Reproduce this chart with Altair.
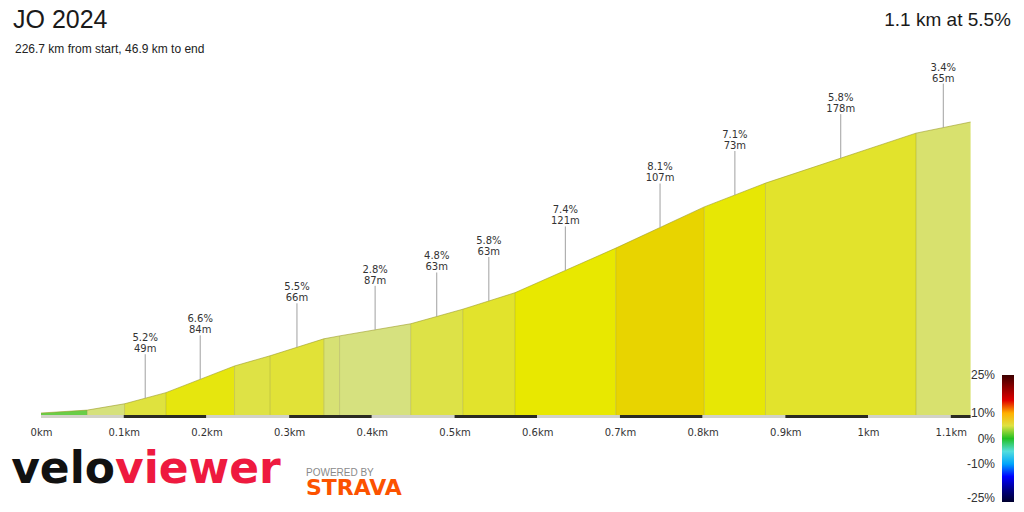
import altair as alt
import pandas as pd

# ---------------- data ----------------
title_text = "JO 2024"
subtitle_text = "226.7 km from start, 46.9 km to end"
summary_text = "1.1 km at 5.5%"

# segment boundaries (km from climb start) and relative elevation (m)
dist_km = [0.0, 0.056, 0.101, 0.151, 0.234, 0.277, 0.342, 0.361, 0.447,
           0.510, 0.573, 0.695, 0.802, 0.876, 1.058, 1.124]
elev_m = [0.0, 0.6, 1.9, 4.2, 9.7, 11.8, 15.3, 15.9, 18.4,
          21.4, 24.8, 34.0, 42.5, 47.4, 57.7, 60.0]
# per-segment gradient (%) and length (m)
grad_pct = [1.1, 2.9, 5.2, 6.6, 4.9, 5.5, 3.2, 2.8, 4.8, 5.8, 7.4, 8.1, 7.1, 5.8, 3.4]
seg_len_m = [56, 45, 49, 84, 43, 66, 19, 87, 63, 63, 121, 107, 73, 178, 65]
labeled = [False, False, True, True, False, True, False, True, True, True,
           True, True, True, True, True]

tick_km = [0, 0.1, 0.2, 0.3, 0.4, 0.5, 0.6, 0.7, 0.8, 0.9, 1, 1.1]

legend_values = [-25, -10, 0, 10, 25]
grad_stops = [-25, -20, -15, -11, -7, -3, 0, 2.8, 4.8, 5.5, 6.6, 7.4, 8.1, 10, 12, 15, 20, 25]
color_stops = ["#00002e", "#00008a", "#0000ff", "#0090ff", "#00e4ee", "#a8d8cc",
               "#22c022", "#d6e17f", "#dde247", "#e1e237", "#e6e60e", "#e8e800",
               "#e8d400", "#ffb000", "#ff6a00", "#e00000", "#900000", "#3c0000"]

logo_a = "velo"
logo_b = "viewer"
powered_text = "POWERED BY"
strava_text = "STRAVA"

# ---------------- tables ----------------
Y_MIN, Y_MAX = -0.41, 60.0
X_MAX = 1.1245
W, H = 930, 293
LEG_X, LEG_Y, LEG_LEN, LEG_W = 961, 253, 127, 12

area_rows = []
for i, g in enumerate(grad_pct):
    for j in (i, i + 1):
        area_rows.append({"d": dist_km[j], "e": elev_m[j], "base": Y_MIN, "seg": i, "g": g})
area_df = pd.DataFrame(area_rows)

prof_df = pd.DataFrame({"d": dist_km, "e": elev_m, "base": [Y_MIN] * len(dist_km)})
sep_df = prof_df.iloc[1:-1]

lab_rows = []
for i, g in enumerate(grad_pct):
    if labeled[i]:
        lab_rows.append({
            "d": (dist_km[i] + dist_km[i + 1]) / 2,
            "e": (elev_m[i] + elev_m[i + 1]) / 2,
            "txt": f"{g}%\n{seg_len_m[i]}m",
        })
lab_df = pd.DataFrame(lab_rows)

stripe_df = pd.DataFrame({
    "d": tick_km,
    "d2": tick_km[1:] + [dist_km[-1]],
    "k": [i % 2 for i in range(len(tick_km))],
})

leg_df = pd.DataFrame({"v": legend_values, "t": [f"{v}%" for v in legend_values]})

# ---------------- encodings ----------------
XS = alt.Scale(domain=[0, X_MAX], nice=False, zero=False)
YS = alt.Scale(domain=[Y_MIN, Y_MAX], nice=False, zero=False)
AX = alt.Axis(values=tick_km, labelExpr="datum.value + 'km'", domain=False,
              ticks=False, tickSize=0, grid=False, labelPadding=12,
              labelFont="DejaVu Sans", labelFontSize=10, labelColor="#333333",
              title=None, labelFlush=False, labelOverlap=False)
X = alt.X("d:Q", scale=XS, axis=AX)
Y = alt.Y("e:Q", scale=YS, axis=None)

legend = alt.Legend(
    orient="none", legendX=LEG_X, legendY=LEG_Y, direction="vertical",
    gradientLength=LEG_LEN, gradientThickness=LEG_W, gradientStrokeWidth=0,
    values=legend_values, labelExpr="''", labelOpacity=0,
    title=None, padding=0, labelOverlap=False,
)

area = alt.Chart(area_df).mark_area(interpolate="linear").encode(
    x=X, y=Y, y2="base:Q",
    color=alt.Color("g:Q",
                    scale=alt.Scale(domain=grad_stops, range=color_stops, interpolate="rgb"),
                    legend=legend),
    detail="seg:N",
)

seps = alt.Chart(sep_df).mark_rule(color="#8f8f2a", opacity=0.35, strokeWidth=1).encode(
    x=X, y=Y, y2="base:Q")

top = alt.Chart(prof_df).mark_line(color="#9c9c28", opacity=0.6, strokeWidth=1).encode(
    x=X, y=Y)

stripes = alt.Chart(stripe_df).mark_rect().encode(
    x=X, x2="d2:Q", y=alt.value(H), y2=alt.value(H + 3),
    fill=alt.Fill("k:N", scale=alt.Scale(domain=[0, 1], range=["#d2d2c8", "#2b2b22"]), legend=None),
)

leaders = alt.Chart(lab_df).mark_rule(color="#a0a0a0", strokeWidth=1, y2Offset=-44).encode(
    x=X, y=Y, y2="e:Q")

labels = alt.Chart(lab_df).mark_text(align="center", baseline="alphabetic", dy=-57,
                                     lineBreak="\n", lineHeight=11, font="DejaVu Sans",
                                     fontSize=10, color="#333333").encode(
    x=X, y=Y, text="txt:N")

# colour-bar labels, placed through a scale matching the gradient legend
LEG_YS = alt.Scale(domain=[-25, 25], range=[LEG_Y + LEG_LEN, LEG_Y], nice=False, zero=False)


def leg_text(flt, dy):
    return alt.Chart(leg_df).transform_filter(flt).mark_text(
        align="right", baseline="middle", font="Liberation Sans", fontSize=12,
        color="#333333", dy=dy).encode(
        x=alt.value(LEG_X - 7),
        y=alt.Y("v:Q", scale=LEG_YS, axis=None),
        text="t:N",
    )


leg_main = leg_text("datum.v > -25", 0)
leg_bottom = leg_text("datum.v <= -25", -4)

one = alt.Data(values=[{"a": 1}])


def txt(s, x, y, **kw):
    return alt.Chart(one).mark_text(text=s, **kw).encode(x=alt.value(x), y=alt.value(y))


t_title = txt(title_text, -28, -94, align="left", baseline="alphabetic",
              font="Liberation Sans", fontSize=25, color="#1a1a1a")
t_sub = txt(subtitle_text, -26, -69, align="left", baseline="alphabetic",
            font="Liberation Sans", fontSize=12, color="#222222")
t_sum = txt(summary_text, 970, -96, align="right", baseline="alphabetic",
            font="Liberation Sans", fontSize=19, color="#1a1a1a")
t_velo = txt(logo_a, 74, 361, align="right", baseline="alphabetic",
             font="DejaVu Sans", fontWeight="bold", fontSize=44, color="#111111")
t_viewer = txt(logo_b, 74, 361, align="left", baseline="alphabetic",
               font="DejaVu Sans", fontWeight="bold", fontSize=44, color="#ee1a3f")
t_pow = txt(powered_text, 265, 354, align="left", baseline="alphabetic",
            font="Liberation Sans", fontSize=10, color="#8a8a8a")
t_strava = txt(strava_text, 265, 373, align="left", baseline="alphabetic",
               font="DejaVu Sans", fontWeight="bold", fontSize=22, color="#fc5200")

chart = alt.layer(
    area, seps, top, stripes, leaders, labels, leg_main, leg_bottom,
    t_title, t_sub, t_sum, t_velo, t_viewer, t_pow, t_strava,
).resolve_scale(y="independent").properties(
    width=W, height=H,
    autosize=alt.AutoSizeParams(type="none"),
    padding={"left": 33, "top": 114, "right": 45, "bottom": 89},
    background="white",
).configure_view(stroke=None)

chart.save("out.html", embed_options={"renderer": "svg", "actions": False})
